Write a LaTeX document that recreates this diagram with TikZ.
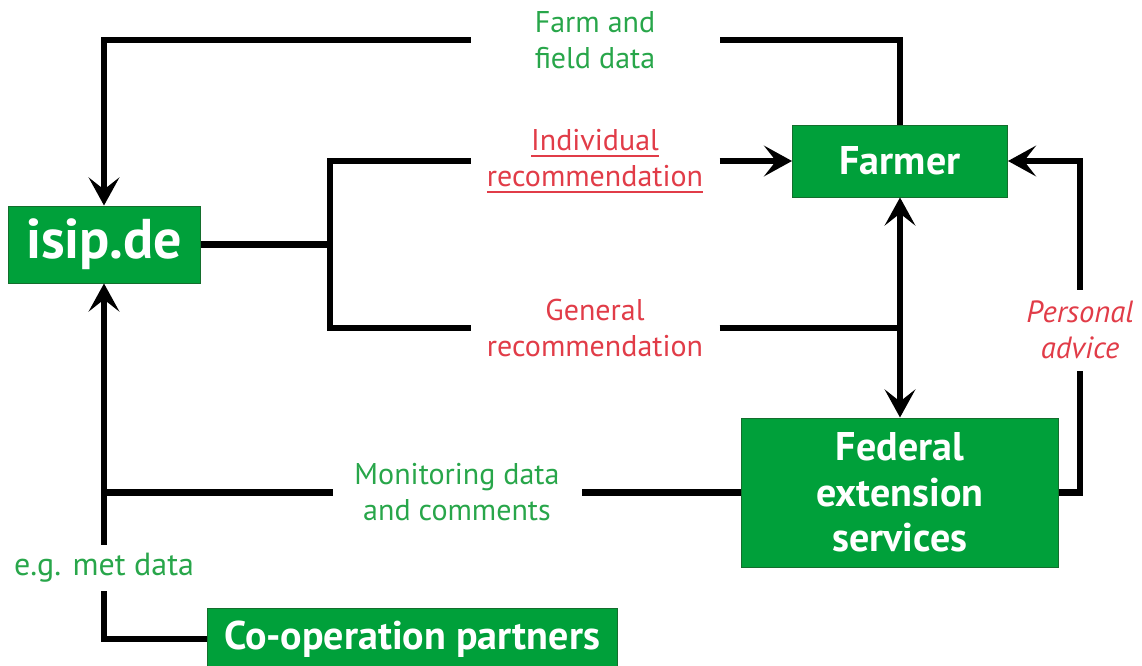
\documentclass[tikz,border=0pt]{standalone}
\usepackage{fontspec}
\setmainfont{PT Sans}
\usetikzlibrary{arrows.meta}

\definecolor{boxgreen}{RGB}{0,160,58}
\definecolor{boxedge}{RGB}{20,110,45}
\definecolor{lblgreen}{RGB}{40,166,74}
\definecolor{lblred}{RGB}{225,60,72}
\newcommand{\ulbar}[1]{\setbox0\hbox{#1}\rlap{\rule[-5pt]{\wd0}{1.8pt}}\box0}

\tikzset{every picture/.style={line width=0.75pt}}
\tikzset{
  unitbox/.style={draw=boxedge, fill=boxgreen, text=white, font=\bfseries\fontsize{30}{34}\selectfont, align=center, inner sep=0pt},
  flowlabel/.style={align=center, font=\fontsize{22.5}{27}\selectfont, minimum width=186pt, inner sep=0pt},
  flow/.style={line width=5pt},
  flowarrow/.style={flow, -{Stealth[length=21pt,width=23pt,inset=9pt]}},
  flowboth/.style={flow, {Stealth[length=21pt,width=23pt,inset=9pt]}-{Stealth[length=21pt,width=23pt,inset=9pt]}},
}

\begin{document}
\begin{tikzpicture}[x=0.75pt,y=0.75pt,yscale=-1,xscale=1]
	\useasboundingbox (0,0) rectangle (1142,665);

	%Shape: Rectangle
	\node [unitbox, minimum width=144pt, minimum height=57.75pt, font=\bfseries\fontsize{42}{48}\selectfont] (isip) at (104,244.5) {isip.de};
	%Shape: Rectangle
	\node [unitbox, minimum width=161.25pt, minimum height=54pt] (farmer) at (900,161) {Farmer};
	%Shape: Rectangle
	\node [unitbox, minimum width=237.75pt, minimum height=111.75pt] (federal) at (900,492.5) {Federal\\extension\\services};
	%Shape: Rectangle
	\node [unitbox, minimum width=307.5pt, minimum height=46.5pt] (coop) at (412,639) {Co-operation partners};

	% Text Node
	\node [flowlabel, text=lblgreen] (farmlbl) at (595,40) {Farm and\\field data};
	% Text Node
	\node [flowlabel, text=lblred] (indlbl) at (595,161) {\ulbar{Individual}\\\ulbar{recommendation}};
	% Text Node
	\node [flowlabel, text=lblred] (genlbl) at (595,328) {General\\recommendation};
	% Text Node
	\node [flowlabel, text=lblgreen] (monlbl) at (457,492.5) {Monitoring data\\and comments};
	% Text Node
	\node [flowlabel, text=lblred, minimum width=0pt, minimum height=60pt, font=\itshape\fontsize{23}{27}\selectfont] (advlbl) at (1080,330) {Personal\\advice};
	% Text Node
	\node [flowlabel, text=lblgreen, minimum width=0pt, minimum height=34pt, font=\fontsize{24}{27}\selectfont] (metlbl) at (104,568) {e.g. met data};

	\coordinate (split) at (330,244.5);
	\coordinate (meet) at (900,328);
	\coordinate (tee) at (104,492.5);

	%Straight Lines
	\draw [flow] (farmer.north) |- (farmlbl.east);
	\draw [flowarrow] (farmlbl.west) -| (isip.north);
	%Straight Lines
	\draw [flow] (isip.east) -- (split);
	\draw [flow] (split) |- (indlbl.west);
	\draw [flowarrow] (indlbl.east) -- (farmer.west);
	\draw [flow] (split) |- (genlbl.west);
	\draw [flow] (genlbl.east) -- (meet);
	\draw [flowboth] (farmer.south) -- (federal.north);
	%Straight Lines
	\draw [flow] (federal.east) -| (advlbl.south);
	\draw [flowarrow] (advlbl.north) |- (farmer.east);
	%Straight Lines
	\draw [flow] (federal.west) -- (monlbl.east);
	\draw [flow] (monlbl.west) -- (tee);
	\draw [flowarrow] (metlbl.north) -- (isip.south);
	\draw [flow] (coop.west) -| (metlbl.south);

\end{tikzpicture}
\end{document}
